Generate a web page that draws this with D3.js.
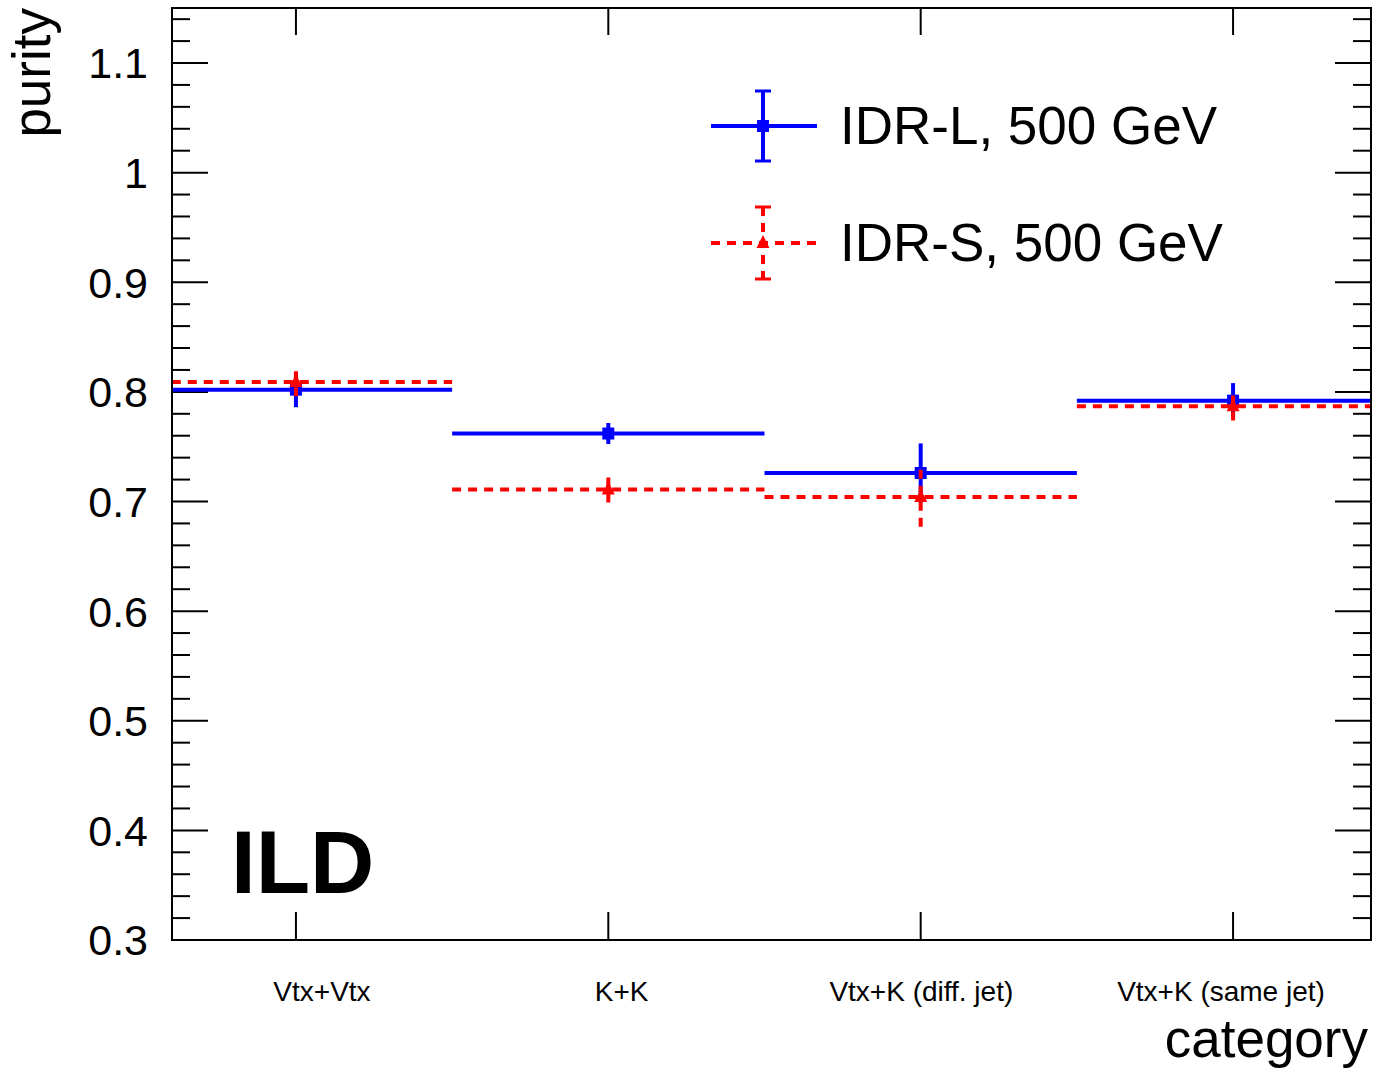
<!DOCTYPE html>
<html><head><meta charset="utf-8">
<script src="https://cdn.jsdelivr.net/npm/d3@7"></script>
<style>body{margin:0;background:#fff}svg{display:block}text{font-family:"Liberation Sans",Arial,Helvetica,sans-serif}</style>
</head><body>
<script>
const categories = ["Vtx+Vtx", "K+K", "Vtx+K (diff. jet)", "Vtx+K (same jet)"];
const idrLValues = [0.802, 0.762, 0.726, 0.792];
const idrLErrors = [0.016, 0.0096, 0.027, 0.016];
const idrSValues = [0.809, 0.711, 0.704, 0.787];
const idrSErrors = [0.013, 0.012, 0.027, 0.013];
const yTickValues = [0.3, 0.4, 0.5, 0.6, 0.7, 0.8, 0.9, 1.0, 1.1];
const legendLabels = ["IDR-L, 500 GeV", "IDR-S, 500 GeV"];

const W = 1393, H = 1069;
const L = 172, R = 1371, T = 8, B = 940;
const svg = d3.select("body").append("svg").attr("width", W).attr("height", H);

const x = d3.scaleLinear().domain([-0.5, 3.5]).range([139.75, 1389.25]);
const y = d3.scaleLinear().domain([0.3, 1.1]).range([B, 63]);
const yTop = y.invert(T);
const labelX = d3.scalePoint().domain(categories).range([322, 1221]);

svg.append("defs").append("clipPath").attr("id", "clip")
  .append("rect").attr("x", L).attr("y", T).attr("width", R - L).attr("height", B - T);

// minor / major ticks
const minor = d3.range(0.3, yTop + 1e-9, 0.02).map(v => +v.toFixed(2));
const g = svg.append("g");
minor.forEach(v => {
  const major = Math.abs(v * 10 - Math.round(v * 10)) < 1e-6;
  const len = major ? 36 : 18;
  g.append("line").attr("x1", L).attr("x2", L + len).attr("y1", y(v)).attr("y2", y(v))
    .attr("stroke", "#000").attr("stroke-width", 2);
  g.append("line").attr("x1", R).attr("x2", R - len).attr("y1", y(v)).attr("y2", y(v))
    .attr("stroke", "#000").attr("stroke-width", 2);
});
categories.forEach((c, i) => {
  g.append("line").attr("x1", x(i)).attr("x2", x(i)).attr("y1", B).attr("y2", B - 28)
    .attr("stroke", "#000").attr("stroke-width", 2);
  g.append("line").attr("x1", x(i)).attr("x2", x(i)).attr("y1", T).attr("y2", T + 27)
    .attr("stroke", "#000").attr("stroke-width", 2);
});

// y tick labels
svg.append("g").selectAll("text").data(yTickValues).join("text")
  .attr("x", 148).attr("y", d => y(d)).attr("dy", "0.36em")
  .attr("text-anchor", "end").attr("font-size", 43)
  .text(d => d3.format("")(+d.toFixed(1)));

// category labels
svg.append("g").selectAll("text").data(categories).join("text")
  .attr("x", d => labelX(d)).attr("y", 1001).attr("text-anchor", "middle")
  .attr("font-size", 28).text(d => d);

// axis titles
svg.append("text").attr("transform", `translate(50,${T}) rotate(-90)`)
  .attr("text-anchor", "end").attr("font-size", 53).text("purity");
svg.append("text").attr("x", 1368).attr("y", 1057).attr("text-anchor", "end")
  .attr("font-size", 53).text("category");

// ILD
svg.append("text").attr("x", 231).attr("y", 893).attr("font-size", 89)
  .attr("font-weight", "bold").text("ILD");

// data
const plot = svg.append("g").attr("clip-path", "url(#clip)");
function drawSeries(vals, errs, color, dash, marker) {
  const gg = plot.append("g");
  vals.forEach((v, i) => {
    gg.append("line").attr("x1", x(i - 0.5)).attr("x2", x(i + 0.5)).attr("y1", y(v)).attr("y2", y(v))
      .attr("stroke", color).attr("stroke-width", 4).attr("stroke-dasharray", dash);
    gg.append("line").attr("x1", x(i)).attr("x2", x(i)).attr("y1", y(v - errs[i])).attr("y2", y(v + errs[i]))
      .attr("stroke", color).attr("stroke-width", 4).attr("stroke-dasharray", dash);
  });
  gg.selectAll("path.m").data(vals).join("path")
    .attr("transform", (v, i) => `translate(${x(i)},${y(v)})`)
    .attr("d", marker).attr("fill", color);
}
const sq = d3.symbol(d3.symbolSquare, 144)();
const tri = "M0,-8L6.5,5L-6.5,5Z";
drawSeries(idrLValues, idrLErrors, "#0000ff", null, sq);
drawSeries(idrSValues, idrSErrors, "#ff0000", "9,7", tri);

// frame
svg.append("rect").attr("x", L).attr("y", T).attr("width", R - L).attr("height", B - T)
  .attr("fill", "none").attr("stroke", "#000").attr("stroke-width", 2);

// legend
const leg = svg.append("g");
const legItems = [
  {label: legendLabels[0], color: "#0000ff", dash: null, marker: sq, cy: 126, e: 35},
  {label: legendLabels[1], color: "#ff0000", dash: "9,7", marker: tri, cy: 243, e: 36}
];
legItems.forEach(it => {
  leg.append("line").attr("x1", 711).attr("x2", 817).attr("y1", it.cy).attr("y2", it.cy)
    .attr("stroke", it.color).attr("stroke-width", 4).attr("stroke-dasharray", it.dash);
  leg.append("line").attr("x1", 763).attr("x2", 763).attr("y1", it.cy - it.e).attr("y2", it.cy + it.e)
    .attr("stroke", it.color).attr("stroke-width", 4).attr("stroke-dasharray", it.dash);
  [it.cy - it.e, it.cy + it.e].forEach(yy => {
    leg.append("line").attr("x1", 755).attr("x2", 771).attr("y1", yy).attr("y2", yy)
      .attr("stroke", it.color).attr("stroke-width", 3);
  });
  leg.append("path").attr("transform", `translate(763,${it.cy})`).attr("d", it.marker).attr("fill", it.color);
  leg.append("text").attr("x", 840).attr("y", it.cy + 18).attr("font-size", 53).text(it.label);
});
</script>
</body></html>
